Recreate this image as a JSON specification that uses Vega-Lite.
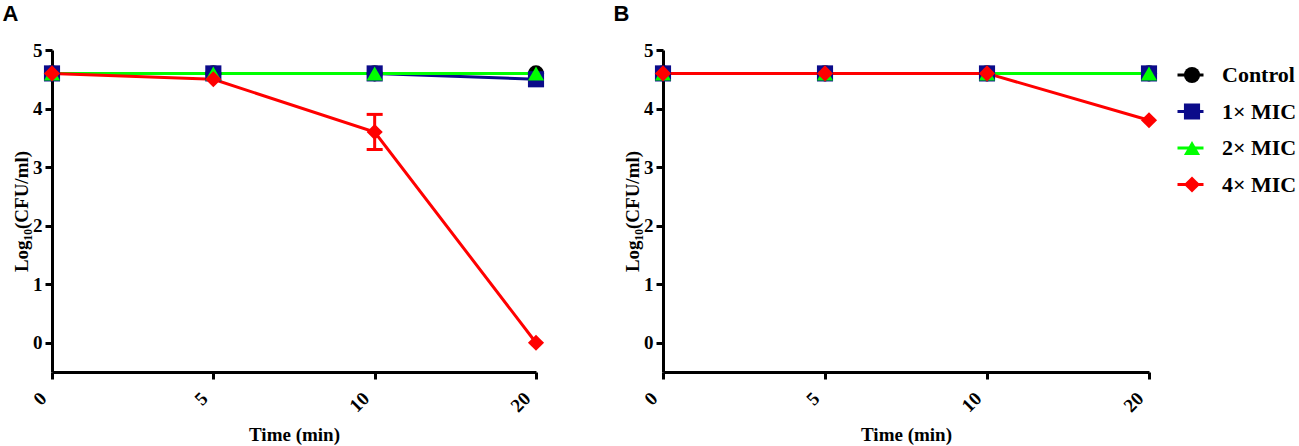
{
  "$schema": "https://vega.github.io/schema/vega-lite/v6.json",
  "padding": {"left": 2, "top": 3, "right": 0, "bottom": 0},
  "background": "white",
  "data": {
    "values": [
      {"panel": "A", "group": "Control", "time": 0, "value": 4.6},
      {"panel": "A", "group": "Control", "time": 5, "value": 4.6},
      {"panel": "A", "group": "Control", "time": 10, "value": 4.6},
      {"panel": "A", "group": "Control", "time": 20, "value": 4.6},
      {"panel": "A", "group": "1× MIC", "time": 0, "value": 4.6},
      {"panel": "A", "group": "1× MIC", "time": 5, "value": 4.6},
      {"panel": "A", "group": "1× MIC", "time": 10, "value": 4.6},
      {"panel": "A", "group": "1× MIC", "time": 20, "value": 4.5},
      {"panel": "A", "group": "2× MIC", "time": 0, "value": 4.6},
      {"panel": "A", "group": "2× MIC", "time": 5, "value": 4.6},
      {"panel": "A", "group": "2× MIC", "time": 10, "value": 4.6},
      {"panel": "A", "group": "2× MIC", "time": 20, "value": 4.6},
      {"panel": "A", "group": "4× MIC", "time": 0, "value": 4.6},
      {"panel": "A", "group": "4× MIC", "time": 5, "value": 4.5},
      {"panel": "A", "group": "4× MIC", "time": 10, "value": 3.6, "lo": 3.3, "hi": 3.9},
      {"panel": "A", "group": "4× MIC", "time": 20, "value": 0},
      {"panel": "B", "group": "Control", "time": 0, "value": 4.6},
      {"panel": "B", "group": "Control", "time": 5, "value": 4.6},
      {"panel": "B", "group": "Control", "time": 10, "value": 4.6},
      {"panel": "B", "group": "Control", "time": 20, "value": 4.6},
      {"panel": "B", "group": "1× MIC", "time": 0, "value": 4.6},
      {"panel": "B", "group": "1× MIC", "time": 5, "value": 4.6},
      {"panel": "B", "group": "1× MIC", "time": 10, "value": 4.6},
      {"panel": "B", "group": "1× MIC", "time": 20, "value": 4.6},
      {"panel": "B", "group": "2× MIC", "time": 0, "value": 4.6},
      {"panel": "B", "group": "2× MIC", "time": 5, "value": 4.6},
      {"panel": "B", "group": "2× MIC", "time": 10, "value": 4.6},
      {"panel": "B", "group": "2× MIC", "time": 20, "value": 4.6},
      {"panel": "B", "group": "4× MIC", "time": 0, "value": 4.6},
      {"panel": "B", "group": "4× MIC", "time": 5, "value": 4.6},
      {"panel": "B", "group": "4× MIC", "time": 10, "value": 4.6},
      {"panel": "B", "group": "4× MIC", "time": 20, "value": 3.8}
    ]
  },
  "spacing": 68,
  "hconcat": [
    {
      "title": {"text": "A"},
      "width": 484,
      "height": 322,
      "transform": [{"filter": "datum.panel == 'A'"}],
      "encoding": {
        "x": {"field": "time", "type": "ordinal", "scale": {"type": "point", "padding": 0}, "title": "Time (min)"},
        "y": {"field": "value", "type": "quantitative", "scale": {"domain": [-0.5, 5]}, "axis": {"values": [0, 1, 2, 3, 4, 5]}, "title": "Log₁₀(CFU/ml)"}
      },
      "layer": [
        {
          "mark": {"type": "line", "strokeWidth": 3},
          "encoding": {
            "stroke": {"field": "group", "type": "nominal", "sort": ["Control", "1× MIC", "2× MIC", "4× MIC"],
              "scale": {"range": ["#000000", "#0b0b8a", "#00ff00", "#ff0000"]},
              "legend": {"title": null, "orient": "none", "legendX": 1124, "legendY": 15, "symbolType": "stroke", "symbolSize": 676, "symbolStrokeWidth": 3, "labelOpacity": 0, "clipHeight": 20, "rowPadding": 14.5, "padding": 0, "labelFontSize": 22}}
          }
        },
        {
          "transform": [{"filter": "isValid(datum.lo)"}],
          "mark": {"type": "rule", "strokeWidth": 3, "color": "#ff0000"},
          "encoding": {"y": {"field": "lo", "type": "quantitative"}, "y2": {"field": "hi"}}
        },
        {
          "transform": [{"filter": "isValid(datum.lo)"}],
          "mark": {"type": "tick", "orient": "horizontal", "size": 16, "thickness": 3, "color": "#ff0000", "opacity": 1},
          "encoding": {"y": {"field": "lo", "type": "quantitative"}}
        },
        {
          "transform": [{"filter": "isValid(datum.hi)"}],
          "mark": {"type": "tick", "orient": "horizontal", "size": 16, "thickness": 3, "color": "#ff0000", "opacity": 1},
          "encoding": {"y": {"field": "hi", "type": "quantitative"}}
        },
        {
          "mark": {"type": "point", "filled": true, "size": 260, "opacity": 1},
          "encoding": {
            "color": {"field": "group", "type": "nominal",
              "scale": {"domain": ["Control", "1× MIC", "2× MIC", "4× MIC"], "range": ["#000000", "#0b0b8a", "#00ff00", "#ff0000"]},
              "legend": {"title": null, "orient": "none", "legendX": 1129, "legendY": 15, "clipHeight": 20, "rowPadding": 14.5, "padding": 0, "symbolSize": 260, "labelFontSize": 22}},
            "shape": {"field": "group", "type": "nominal",
              "scale": {"domain": ["Control", "1× MIC", "2× MIC", "4× MIC"], "range": ["circle", "square", "triangle-up", "diamond"]},
              "legend": {"title": null, "orient": "none", "legendX": 1129, "legendY": 15, "clipHeight": 20, "rowPadding": 14.5, "padding": 0, "symbolSize": 260, "labelFontSize": 22}}
          }
        }
      ]
    },
    {
      "title": {"text": "B"},
      "width": 486,
      "height": 322,
      "transform": [{"filter": "datum.panel == 'B'"}],
      "encoding": {
        "x": {"field": "time", "type": "ordinal", "scale": {"type": "point", "padding": 0}, "title": "Time (min)"},
        "y": {"field": "value", "type": "quantitative", "scale": {"domain": [-0.5, 5]}, "axis": {"values": [0, 1, 2, 3, 4, 5]}, "title": "Log₁₀(CFU/ml)"}
      },
      "layer": [
        {
          "mark": {"type": "line", "strokeWidth": 3},
          "encoding": {
            "stroke": {"field": "group", "type": "nominal", "sort": ["Control", "1× MIC", "2× MIC", "4× MIC"],
              "scale": {"range": ["#000000", "#0b0b8a", "#00ff00", "#ff0000"]},
              "legend": {"title": null, "orient": "none", "legendX": 1124, "legendY": 15, "symbolType": "stroke", "symbolSize": 676, "symbolStrokeWidth": 3, "labelOpacity": 0, "clipHeight": 20, "rowPadding": 14.5, "padding": 0, "labelFontSize": 22}}
          }
        },
        {
          "mark": {"type": "point", "filled": true, "size": 260, "opacity": 1},
          "encoding": {
            "color": {"field": "group", "type": "nominal",
              "scale": {"domain": ["Control", "1× MIC", "2× MIC", "4× MIC"], "range": ["#000000", "#0b0b8a", "#00ff00", "#ff0000"]},
              "legend": {"title": null, "orient": "none", "legendX": 1129, "legendY": 15, "clipHeight": 20, "rowPadding": 14.5, "padding": 0, "symbolSize": 260, "labelFontSize": 22}},
            "shape": {"field": "group", "type": "nominal",
              "scale": {"domain": ["Control", "1× MIC", "2× MIC", "4× MIC"], "range": ["circle", "square", "triangle-up", "diamond"]},
              "legend": {"title": null, "orient": "none", "legendX": 1129, "legendY": 15, "clipHeight": 20, "rowPadding": 14.5, "padding": 0, "symbolSize": 260, "labelFontSize": 22}}
          }
        }
      ]
    }
  ],
  "config": {
    "view": {"stroke": null},
    "font": "Liberation Serif",
    "title": {"font": "Liberation Sans", "fontSize": 22, "fontWeight": "bold", "anchor": "start", "frame": "bounds", "dx": -10, "offset": 15, "color": "#000000"},
    "axis": {
      "grid": false,
      "domainColor": "#000000", "domainWidth": 3,
      "tickColor": "#000000", "tickWidth": 3, "tickSize": 7,
      "labelFont": "Liberation Serif", "labelFontSize": 19, "labelFontWeight": "bold", "labelColor": "#000000",
      "titleFont": "Liberation Serif", "titleFontSize": 19, "titleFontWeight": "bold", "titleColor": "#000000"
    },
    "axisX": {"labelAngle": -45, "labelAlign": "right", "labelBaseline": "middle", "labelPadding": 16, "labelOffset": -9, "titlePadding": 10},
    "axisY": {"labelPadding": 3, "titlePadding": 1},
    "legend": {"labelFont": "Liberation Serif", "labelFontWeight": "bold", "labelColor": "#000000", "labelOffset": 19}
  }
}
